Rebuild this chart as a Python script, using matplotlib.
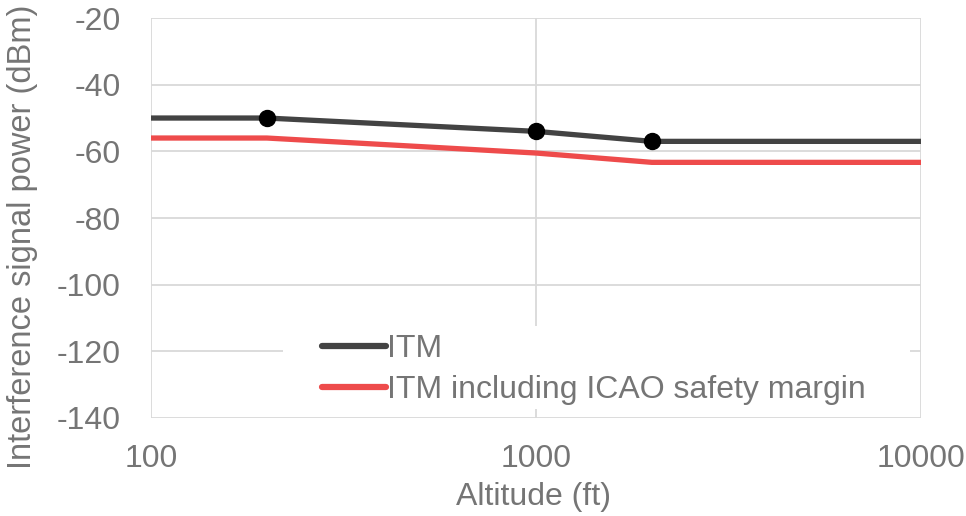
import numpy as np
import matplotlib.pyplot as plt
from matplotlib.patches import Rectangle

plt.rcParams['font.family'] = ['Liberation Sans', 'DejaVu Sans']
plt.rcParams['axes.unicode_minus'] = False

# data
altitude = [100, 200, 1000, 2000, 10000]
itm = [-50, -50, -54, -57, -57]
itm_icao = [-56, -56, -60.5, -63.3, -63.3]
marker_alt = [200, 1000, 2000]
marker_val = [-50, -54, -57]

text_grey = '#757575'
grid_grey = '#d9d9d9'

fig = plt.figure(figsize=(9.66, 5.16), dpi=100)
ax = fig.add_axes([0.1563, 0.19, 0.797, 0.775])

ax.plot(altitude, itm, color='#434343', lw=3.8, solid_capstyle='round', label='ITM', zorder=4)
ax.plot(altitude, itm_icao, color='#ee4b4b', lw=3.8, solid_capstyle='round',
        label='ITM including ICAO safety margin', zorder=3)
ax.plot(marker_alt, marker_val, 'o', color='black', ms=11.5, zorder=5)

ax.set_xscale('log')
ax.set_xlim(100, 10000)
ax.set_ylim(-140, -20)
ax.set_yticks(np.arange(-140, -19, 20))
ax.set_xticks([100, 1000, 10000])
ax.set_xticklabels(['100', '1000', '10000'])
ax.minorticks_off()

ax.grid(True, color=grid_grey, lw=1.3, zorder=0)
ax.set_axisbelow(True)
for s in ax.spines.values():
    s.set_visible(False)
ax.tick_params(length=0, labelsize=23, colors=text_grey)
ax.tick_params(axis='y', pad=22)
ax.tick_params(axis='x', pad=19)

ax.set_xlabel('Altitude (ft)', fontsize=23, color=text_grey)
ax.set_ylabel('Interference signal power (dBm)', fontsize=23.5, color=text_grey)
ax.xaxis.set_label_coords(0.497, -0.16)
ax.yaxis.set_label_coords(-0.147, 0.4525)

# white legend area over the grid
ax.add_patch(Rectangle((0.171, 0.0225), 0.815, 0.2075, transform=ax.transAxes,
                       facecolor='white', edgecolor='none', zorder=1))
leg = ax.legend(loc='upper left', bbox_to_anchor=(0.222, 0.21), frameon=False,
                fontsize=23, handlelength=2.0, handletextpad=0.05,
                labelspacing=0.35, borderpad=0, borderaxespad=0)
for t in leg.get_texts():
    t.set_color(text_grey)
for h in leg.get_lines():
    h.set_linewidth(4.5)

fig.savefig('out.png', dpi=100)
